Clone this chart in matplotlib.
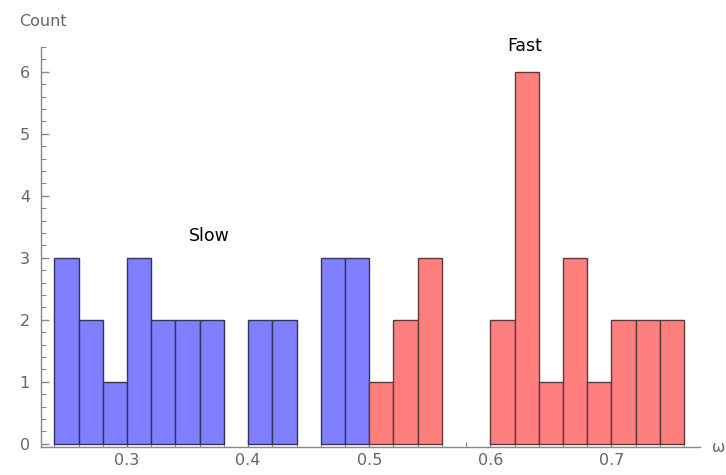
import matplotlib
matplotlib.use('Agg')
import matplotlib.pyplot as plt
import numpy as np

# histogram bins (left edges), width 0.02
slow_bins = [0.24, 0.26, 0.28, 0.30, 0.32, 0.34, 0.36, 0.38, 0.40, 0.42, 0.44, 0.46, 0.48]
slow_counts = [3, 2, 1, 3, 2, 2, 2, 0, 2, 2, 0, 3, 3]
fast_bins = [0.50, 0.52, 0.54, 0.56, 0.58, 0.60, 0.62, 0.64, 0.66, 0.68, 0.70, 0.72, 0.74]
fast_counts = [1, 2, 3, 0, 0, 2, 6, 1, 3, 1, 2, 2, 2]
bin_width = 0.02

plt.rcParams['font.family'] = ['DejaVu Sans']

fig = plt.figure(figsize=(7.26, 4.75), dpi=100)
ax = fig.add_axes([0.0565, 0.059, 0.9075, 0.842])


def draw_bars(bins, counts, face, edge):
    b = np.array(bins)
    c = np.array(counts)
    keep = c > 0
    ax.bar(b[keep], c[keep], width=bin_width, align='edge', color=face,
           edgecolor=edge, linewidth=1.0, zorder=3)


draw_bars(slow_bins, slow_counts, '#7f7fff', '#34345a')
draw_bars(fast_bins, fast_counts, '#ff7f7f', '#5a3a3a')

ax.set_xlim(0.229, 0.773)
ax.set_ylim(-0.05, 6.4)

for s in ['top', 'right']:
    ax.spines[s].set_visible(False)
for s in ['left', 'bottom']:
    ax.spines[s].set_color('#888888')
    ax.spines[s].set_linewidth(1.0)

ax.set_xticks([0.3, 0.4, 0.5, 0.6, 0.7])
ax.set_xticklabels(['0.3', '0.4', '0.5', '0.6', '0.7'])
ax.set_xticks(np.arange(0.24, 0.77, 0.02), minor=True)
ax.set_yticks(range(0, 7))
ax.set_yticks(np.arange(0, 6.41, 0.2), minor=True)

ax.tick_params(axis='both', which='major', direction='in', length=6, width=1,
               color='#888888', labelcolor='#666666', labelsize=11.5)
ax.tick_params(axis='both', which='minor', direction='in', length=3.5, width=0.8,
               color='#888888')
ax.tick_params(axis='y', pad=8)
ax.tick_params(axis='x', pad=4)

ax.text(0.368, 3.35, 'Slow', ha='center', va='center', fontsize=12.5, color='black')
ax.text(0.628, 6.42, 'Fast', ha='center', va='center', fontsize=12.5, color='black')

fig.text(0.027, 0.954, 'Count', ha='left', va='center', fontsize=11.5, color='#666666')
fig.text(0.981, 0.058, 'ω', ha='left', va='center', fontsize=11.5, color='#666666')

fig.savefig('out.png', dpi=100)
